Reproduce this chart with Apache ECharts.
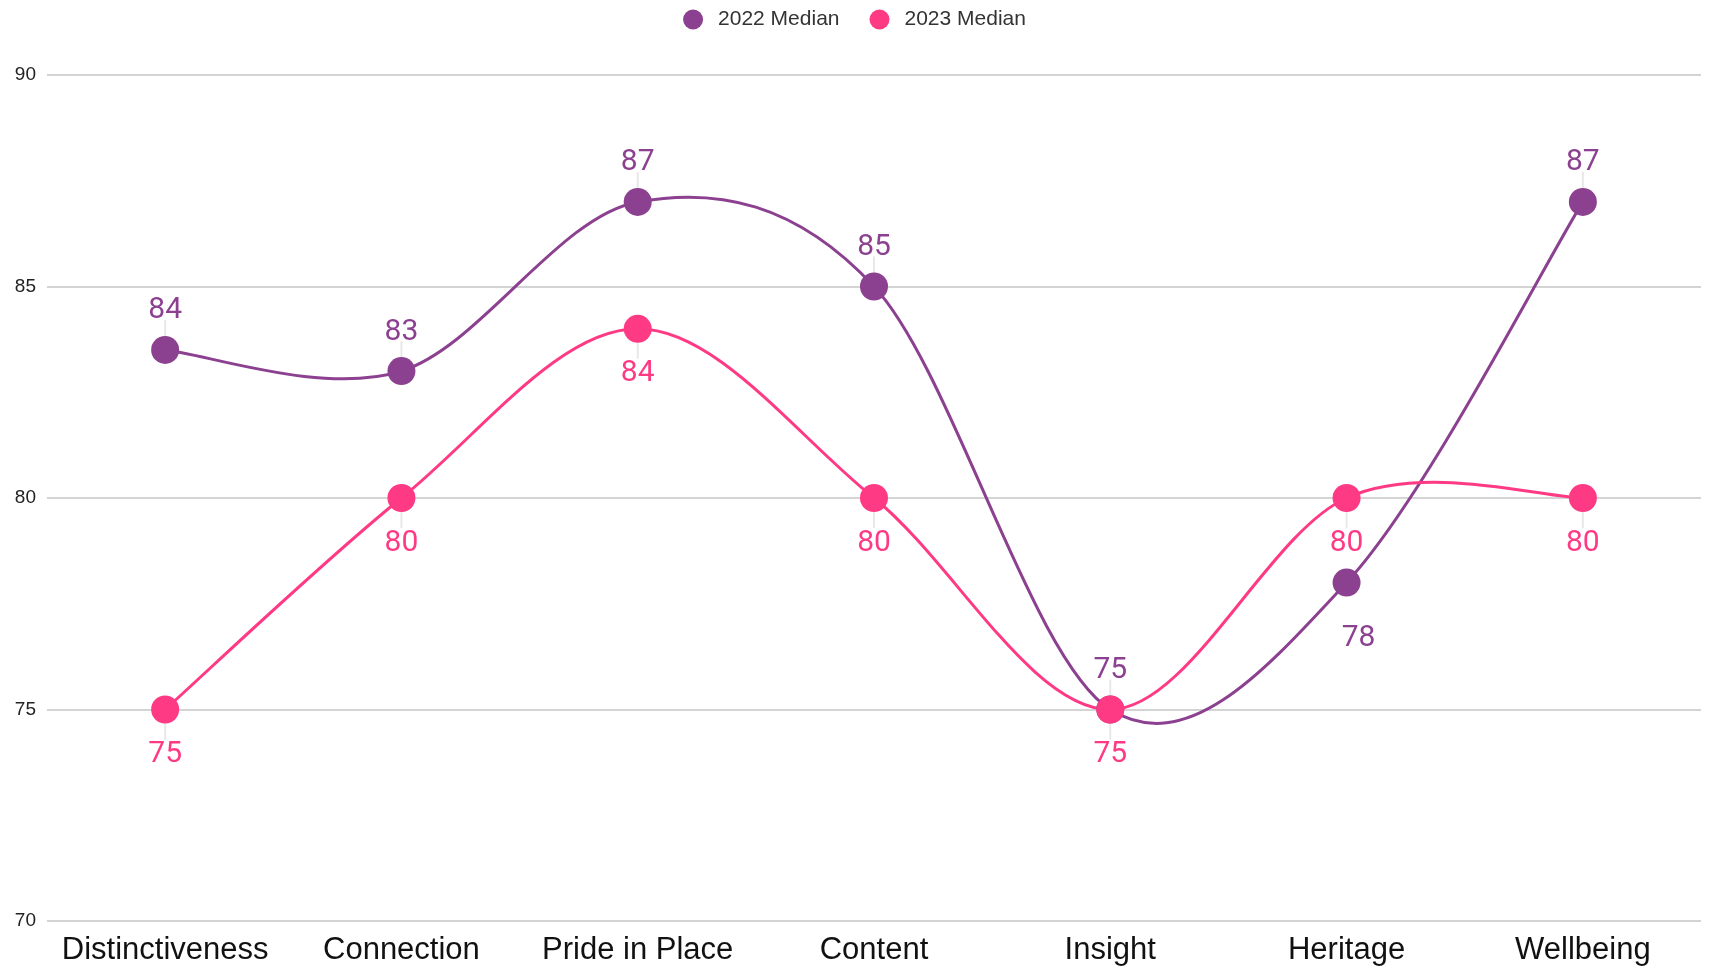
<!DOCTYPE html>
<html>
<head>
    <meta charset="utf-8">
    <title>Median scores 2022 vs 2023</title>
    <script src="https://cdn.jsdelivr.net/npm/echarts@6/dist/echarts.min.js"></script>
    <style>
        html, body { margin: 0; padding: 0; background: #fff; }
    </style>
</head>
<body>
    <div id="main" style="width: 1709px;height:966px;"></div>
    <script type="text/javascript">
        // data
        var categories = ['Distinctiveness', 'Connection', 'Pride in Place', 'Content', 'Insight', 'Heritage', 'Wellbeing'];
        var median2022 = [83.5, 83, 87, 85, 75, 78, 87];
        var median2023 = [75, 80, 84, 80, 75, 80, 80];
        var yTicks = [70, 75, 80, 85, 90];

        var purple = '#8c4090';
        var pink = '#ff3a85';

        var myChart = echarts.init(document.getElementById('main'));

        // 2022 labels sit above, except Heritage which goes below
        var data2022 = median2022.map(function (v, i) {
            if (categories[i] === 'Heritage') {
                return { value: v, label: { position: 'bottom', distance: 27, offset: [12, 0] } };
            }
            return v;
        });

        // catmull-rom style curve (overshoots like the original), drawn from axis coords
        // plus the faint vertical tick between each dot and its label
        function curveRenderer(values, color, tickDir, skipTick) {
            return function (params, api) {
                var i = params.dataIndex;
                var n = values.length;
                var pt = function (k) {
                    k = Math.max(0, Math.min(n - 1, k));
                    return api.coord([k, values[k]]);
                };
                var children = [];
                var c = pt(i);
                if (skipTick.indexOf(i) < 0) {
                    children.push({
                        type: 'line',
                        shape: { x1: c[0], y1: c[1], x2: c[0], y2: c[1] + tickDir * 30 },
                        style: { stroke: '#e8e8e8', lineWidth: 2 }
                    });
                }
                if (i < n - 1) {
                    var p0 = pt(i - 1), p1 = c, p2 = pt(i + 1), p3 = pt(i + 2);
                    var t = 1 / 6;
                    children.push({
                        type: 'bezierCurve',
                        shape: {
                            x1: p1[0], y1: p1[1],
                            cpx1: p1[0] + (p2[0] - p0[0]) * t, cpy1: p1[1] + (p2[1] - p0[1]) * t,
                            cpx2: p2[0] - (p3[0] - p1[0]) * t, cpy2: p2[1] - (p3[1] - p1[1]) * t,
                            x2: p2[0], y2: p2[1]
                        },
                        style: { stroke: color, lineWidth: 3, fill: null }
                    });
                }
                return { type: 'group', children: children };
            };
        }

        var labelFont = { fontFamily: 'Roboto', fontSize: 30 };

        var option = {
            animation: false,
            legend: {
                top: 4,
                left: 'center',
                icon: 'circle',
                itemWidth: 20,
                itemHeight: 20,
                itemGap: 30,
                textStyle: { fontFamily: 'Liberation Sans', fontSize: 21, color: '#333', padding: [0, 0, 0, 10] },
                data: ['2022 Median', '2023 Median']
            },
            grid: { left: 47, right: 8, top: 75, bottom: 43 },
            xAxis: {
                type: 'category',
                data: categories,
                axisLine: { show: false },
                axisTick: { show: false },
                axisLabel: { interval: 0, fontFamily: 'Liberation Sans', fontSize: 31, color: '#111', margin: 14 }
            },
            yAxis: {
                type: 'value',
                min: yTicks[0],
                max: yTicks[yTicks.length - 1],
                interval: 5,
                axisLabel: { fontFamily: 'Liberation Sans', fontSize: 19, color: '#222', margin: 11 },
                splitLine: { lineStyle: { color: '#d4d4d4', width: 2 } }
            },
            series: [
                {
                    name: 'curve2022',
                    type: 'custom',
                    z: 1,
                    data: median2022.map(function (v, i) { return [i, v]; }),
                    encode: { x: 0, y: 1 },
                    renderItem: curveRenderer(median2022, purple, -1, [5])
                },
                {
                    name: 'curve2023',
                    type: 'custom',
                    z: 1,
                    data: median2023.map(function (v, i) { return [i, v]; }),
                    encode: { x: 0, y: 1 },
                    renderItem: curveRenderer(median2023, pink, 1, [])
                },
                {
                    name: '2022 Median',
                    type: 'line',
                    z: 3,
                    data: data2022,
                    symbol: 'circle',
                    symbolSize: 28,
                    color: purple,
                    lineStyle: { opacity: 0 },
                    label: {
                        show: true,
                        position: 'top',
                        distance: 10,
                        fontFamily: labelFont.fontFamily,
                        fontSize: labelFont.fontSize,
                        color: purple,
                        formatter: function (p) { return Math.round(p.value); }
                    }
                },
                {
                    name: '2023 Median',
                    type: 'line',
                    z: 3,
                    data: median2023,
                    symbol: 'circle',
                    symbolSize: 28,
                    color: pink,
                    lineStyle: { opacity: 0 },
                    label: {
                        show: true,
                        position: 'bottom',
                        distance: 16,
                        fontFamily: labelFont.fontFamily,
                        fontSize: labelFont.fontSize,
                        color: pink
                    }
                }
            ]
        };
        myChart.setOption(option);
    </script>
</body>
</html>
